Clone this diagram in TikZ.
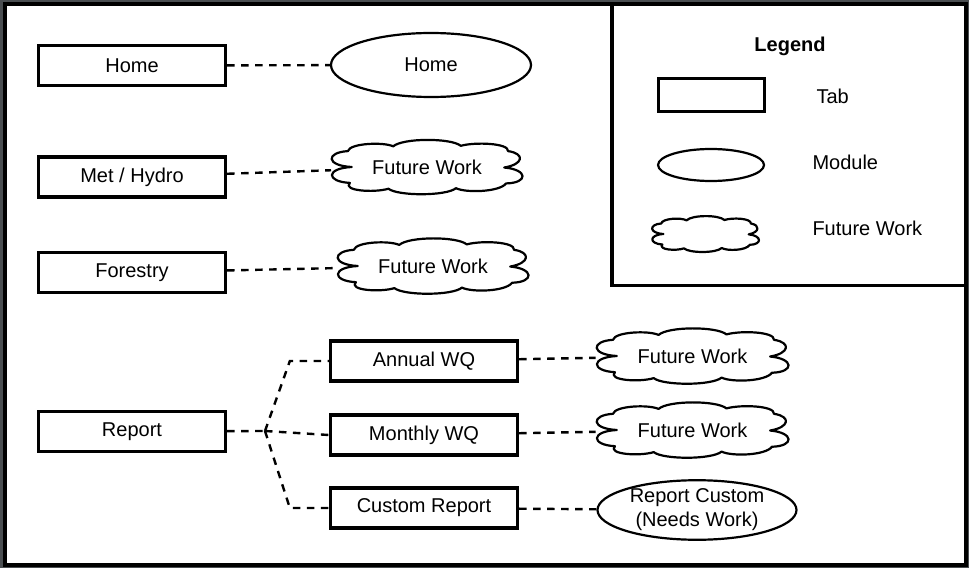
\documentclass[tikz,border=0pt]{standalone}
\usepackage{fontspec}
\setmainfont{Liberation Sans}
\usepackage{tikz}
\usetikzlibrary{shapes.geometric}

\definecolor{framegray}{RGB}{74,78,81}

\tikzset{
  txt/.style={font=\fontsize{20bp}{24bp}\selectfont},
  tabbox/.style={txt, draw=black, line width=3.3bp, minimum width=187bp, minimum height=40bp, inner sep=0pt},
  modellipse/.style={txt, draw=black, ellipse, line width=2.2bp, inner sep=0pt, align=center},
  workcloud/.style={txt, ellipse, inner sep=0pt},
  cloudline/.style={draw=black, line width=2.2bp, line join=round},
  link/.style={line width=2.4bp, dash pattern=on 7.5bp off 6.5bp}
}

\newcommand{\cloudoutline}[3]{%
  \draw[cloudline, shift={(#1.center)}, xscale=#2, yscale=#3]
    (-0.78,0) .. controls (-1.05,-0.05) and (-1.05,-0.55) .. (-0.82,-0.6)
    .. controls (-0.8,-0.9) and (-0.45,-0.95) .. (-0.35,-0.78)
    .. controls (-0.25,-1.1) and (0.25,-1.1) .. (0.35,-0.8)
    .. controls (0.5,-0.95) and (0.85,-0.9) .. (0.84,-0.6)
    .. controls (1.02,-0.5) and (1.0,-0.1) .. (0.8,0.02)
    .. controls (1.05,0.1) and (1.05,0.6) .. (0.82,0.62)
    .. controls (0.75,0.95) and (0.4,0.98) .. (0.3,0.8)
    .. controls (0.2,1.1) and (-0.3,1.1) .. (-0.4,0.82)
    .. controls (-0.55,0.98) and (-0.88,0.9) .. (-0.8,0.6)
    .. controls (-1.05,0.55) and (-1.05,0.05) .. (-0.78,0) -- cycle;}

\begin{document}
\begin{tikzpicture}[x=1bp, y=-1bp]
    \fill[framegray] (0,0) rectangle (969,568);
    \draw[line width=4bp, fill=white] (4.7,3.7) rectangle (965.5,565);
    \draw[line width=3.6bp] (612,3.7) -- (612,285.5) -- (965.5,285.5);

    \node[txt, font=\fontsize{20bp}{24bp}\selectfont\bfseries] (legend) at (790,46.5) {Legend};
    \node[tabbox, minimum width=106bp, minimum height=33bp] (keytab) at (711.5,95) {};
    \node[modellipse, minimum width=106bp, minimum height=32bp] (keymod) at (711,165) {};
    \node[workcloud, minimum width=109bp, minimum height=36bp] (keycloud) at (705.5,234) {};
    \cloudoutline{keycloud}{54}{17.5}
    \node[txt, anchor=west] (keytabtxt) at (813,96) {Tab};
    \node[txt, anchor=west] (keymodtxt) at (809,162) {Module};
    \node[txt, anchor=west] (keycloudtxt) at (809,228) {Future Work};

    \node[tabbox] (hometab) at (132,65.5) {Home};
    \node[tabbox] (mettab) at (132,177) {Met / Hydro};
    \node[tabbox] (foresttab) at (132,272.5) {Forestry};
    \node[tabbox] (reporttab) at (132,431.5) {Report};

    \node[tabbox] (annual) at (424,361) {Annual WQ};
    \node[tabbox] (monthly) at (424,435) {Monthly WQ};
    \node[tabbox] (custom) at (424,508) {Custom Report};

    \node[modellipse, minimum width=200bp, minimum height=64bp] (homemod) at (431,65) {Home};
    \node[workcloud, minimum width=193bp, minimum height=53bp] (metcloud) at (427,167) {Future Work};
    \node[workcloud, minimum width=193bp, minimum height=54bp] (forestcloud) at (433,266) {Future Work};
    \node[workcloud, minimum width=194bp, minimum height=54bp] (annualcloud) at (692.5,356) {Future Work};
    \node[workcloud, minimum width=194bp, minimum height=54bp] (monthlycloud) at (692.5,430) {Future Work};
    \cloudoutline{metcloud}{96.5}{26.5}
    \cloudoutline{forestcloud}{96.5}{27}
    \cloudoutline{annualcloud}{97}{27}
    \cloudoutline{monthlycloud}{97}{27}
    \node[modellipse, minimum width=199bp, minimum height=54bp] (custommod) at (697,510) {Report Custom\\(Needs Work)};

    \draw[link] (hometab) -- (homemod);
    \draw[link] (mettab) -- (metcloud);
    \draw[link] (foresttab) -- (forestcloud);

    \coordinate (split) at (265,431);
    \draw[link] (reporttab) -- (split);
    \draw[link] (split) -- ([xshift=-39bp]annual.west) -- (annual.west);
    \draw[link] (split) -- (monthly.west);
    \draw[link] (split) -- ([xshift=-39bp]custom.west) -- (custom.west);

    \draw[link] (annual) -- (annualcloud);
    \draw[link] (monthly) -- (monthlycloud);
    \draw[link] (custom) -- (custommod);
  \end{tikzpicture}
\end{document}
